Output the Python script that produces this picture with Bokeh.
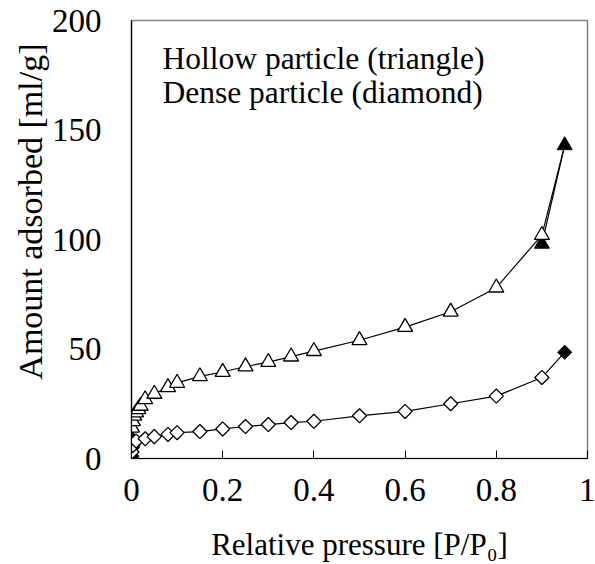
import numpy as np
from bokeh.plotting import figure
from bokeh.models import Label, FixedTicker, Range1d, Title
from bokeh.embed import file_html
from bokeh.resources import INLINE

# Hollow particle (triangles): adsorption (open) and desorption (filled)
hollow_ads_x = [0.001, 0.003, 0.006, 0.01, 0.015, 0.02, 0.03, 0.05, 0.08, 0.1,
                0.15, 0.2, 0.25, 0.3, 0.35, 0.4, 0.5, 0.6, 0.7, 0.8, 0.9]
hollow_ads_y = [14, 17, 19.5, 21, 22.5, 24, 27, 29.5, 32.5, 34.5,
                37.5, 39.5, 42, 44, 46.5, 49, 54, 60, 67, 78, 102]
hollow_des_x = [0.95, 0.9]
hollow_des_y = [143, 98]
hollow_des_low_x = [0.001]
hollow_des_low_y = [9]

# Dense particle (diamonds)
dense_ads_x = [0.001, 0.003, 0.01, 0.03, 0.05, 0.08, 0.1, 0.15, 0.2, 0.25,
               0.3, 0.35, 0.4, 0.5, 0.6, 0.7, 0.8, 0.9]
dense_ads_y = [3, 6, 8, 9, 10, 11, 11.8, 12.3, 13.5, 14.6,
               15.5, 16.4, 17, 19.5, 21.5, 25, 28.5, 37]
dense_des_x = [0.95]
dense_des_y = [48.5]
dense_des_low_x = [0.002, 0.001]
dense_des_low_y = [5, 1]

x_ticks = [0, 0.2, 0.4, 0.6, 0.8, 1]
x_tick_labels = {0: "0", 0.2: "0.2", 0.4: "0.4", 0.6: "0.6", 0.8: "0.8", 1: "1"}
y_ticks = [0, 50, 100, 150, 200]

FONT = "Liberation Serif"

p = figure(width=595, height=564, output_backend="svg", toolbar_location=None,
           x_range=Range1d(0, 1), y_range=Range1d(0, 200),
           min_border_left=131, min_border_right=8, min_border_top=20,
           min_border_bottom=105)
p.grid.visible = False
p.background_fill_color = "white"
p.border_fill_color = "white"
p.outline_line_color = "#808080"
p.outline_line_width = 1.5

# axes
p.xaxis.ticker = FixedTicker(ticks=x_ticks)
p.xaxis.major_label_overrides = x_tick_labels
p.yaxis.ticker = FixedTicker(ticks=y_ticks)
for ax in (p.xaxis, p.yaxis):
    ax.axis_line_color = "black"
    ax.axis_line_width = 1.2
    ax.minor_tick_line_color = None
    ax.major_tick_out = 0
    ax.major_label_text_font = FONT
    ax.major_label_text_font_size = "33px"
    ax.major_label_text_color = "black"
    ax.axis_label_text_font = FONT
    ax.axis_label_text_font_style = "normal"
    ax.axis_label_text_font_size = "31px"
    ax.axis_label_text_color = "black"
p.xaxis.major_tick_in = 8
p.xaxis.major_tick_line_color = "black"
p.yaxis.major_tick_in = 0
p.xaxis.major_label_standoff = 20
p.yaxis.major_label_standoff = 30
p.xaxis.axis_label = "Relative pressure [P/P\u2080]"
p.xaxis.axis_label_standoff = 23

# y axis title as a side title, aligned towards the top as in the original
p.add_layout(Title(text="Amount adsorbed [ml/g]", align="right", offset=23,
                   standoff=0, text_font=FONT, text_font_size="34px",
                   text_font_style="normal", text_color="black"), "left")

# lines
p.line(hollow_ads_x + hollow_des_x[:1], hollow_ads_y + hollow_des_y[:1],
       line_color="black", line_width=1.2)
p.line(hollow_des_x, hollow_des_y, line_color="black", line_width=1.2)
p.line(dense_ads_x + dense_des_x, dense_ads_y + dense_des_y,
       line_color="black", line_width=1.2)

# filled (desorption) markers
p.scatter(hollow_des_x + hollow_des_low_x, hollow_des_y + hollow_des_low_y,
          marker="triangle", size=15, fill_color="black", line_color="black")
p.scatter(dense_des_x + dense_des_low_x, dense_des_y + dense_des_low_y,
          marker="square", angle=np.pi / 4, size=10,
          fill_color="black", line_color="black")
# open (adsorption) markers
p.scatter(hollow_ads_x, hollow_ads_y, marker="triangle", size=15,
          fill_color="white", line_color="black", line_width=1.3)
p.scatter(dense_ads_x, dense_ads_y, marker="square", angle=np.pi / 4, size=10,
          fill_color="white", line_color="black", line_width=1.3)

# legend texts
p.add_layout(Label(x=0.068, y=182.5, text="Hollow particle (triangle)",
                   text_font=FONT, text_font_size="31.5px", text_color="black",
                   text_baseline="alphabetic"))
p.add_layout(Label(x=0.068, y=167, text="Dense particle (diamond)",
                   text_font=FONT, text_font_size="31.5px", text_color="black",
                   text_baseline="alphabetic"))

open("out.html", "w").write(file_html(p, INLINE))
